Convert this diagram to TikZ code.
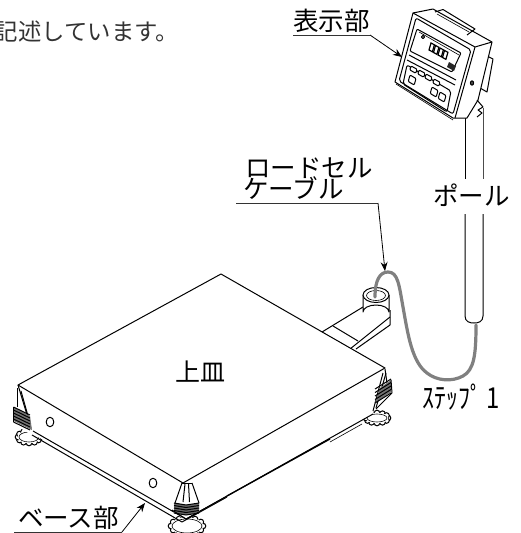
\documentclass[tikz,border=0pt]{standalone}
\usepackage{fontspec}
\setmainfont{Noto Sans CJK JP}
\usetikzlibrary{arrows.meta}
\tikzset{
  lab/.style={inner sep=0pt,font=\fontsize{25.5}{25.5}\selectfont,anchor=base west},
  gap/.style={lab,fill=white},
  ln/.style={line width=1pt,black,line join=round},
  thin line/.style={line width=.6pt,black,line join=round},
  heavy/.style={line width=1.3pt,black,line join=round},
  leader/.style={line width=.8pt,black,-{Stealth[length=9pt,width=7pt]}},
  rule/.style={line width=.9pt,black!80},
  cable/.style={line width=3.2pt,black!50,line cap=round},
  keyb/.style={line width=1pt,black,rounded corners=1pt,fill=white},
}
\newcommand{\knobshape}[4]{% cx cy rx ry
  \foreach \a in {0,30,...,330}{
    \fill[white,draw=black,line width=1pt] ({#1+#3*cos(\a)},{#2+#4*sin(\a)}) circle (2.8);
  }
  \fill[white] (#1,#2) ellipse (#3+.4 and #4+.4);
  \draw[thin line] (#1,#2) ellipse (#3-1 and #4-1);
}
\begin{document}
\begin{tikzpicture}[x=1pt,y=-1pt]
\useasboundingbox (0,0) rectangle (521,533);
\clip (0,0) rectangle (521,533);
% top text
\node[inner sep=0pt,anchor=base west,font=\fontsize{23.4}{23.4}\selectfont,text=black!80] (note) at (-5.4,40) {記述しています。};

% feet knobs (behind plate)
\knobshape{29}{437}{11}{6}
\knobshape{187}{526}{16}{8}
\knobshape{377}{418}{11}{5}

% load cell arm
\draw[ln] (322,332) -- (363,307);
\draw[ln] (350,349) -- (390,317);
\draw[ln] (356,349) -- (390,325) -- (390,310);
\draw[ln] (333,326) -- (358,341);
% load cell cylinder
\draw[ln,fill=white] (363,295) -- (363,312) arc[start angle=180,end angle=360,x radius=13,y radius=7] -- (389,295);
\draw[ln,fill=white] (376,295) ellipse (13 and 7.5);
\draw[thin line] (376,295.5) ellipse (9.5 and 5);

% plate body
\fill[white] (18,386) -- (221,274) -- (385,368) -- (373,414) -- (186,520) -- (31,433) -- cycle;
\draw[ln] (18,385) -- (221,274) -- (385,368) -- (183,483) -- cycle;
% skirts
\draw[ln] (33,431) -- (186,519) -- (373,414);
\draw[ln] (32,435) -- (182,522) -- (227,497);
\draw[heavy] (227,496) -- (330,439);
\draw[thin line] (330,442) -- (362,424);
\draw[thin line] (200,511) -- (227,496);
% holes
\draw[ln] (50,422) ellipse (3.8 and 4.8);
\draw[ln] (153,483) ellipse (3.8 and 4.8);

% left corner
\fill[white] (17,388) -- (32,428) -- (32,435) -- (13,424) -- (13,407) -- cycle;
\draw[ln] (18,385) -- (31,428);
\draw[ln] (17,388) -- (17,407);
\draw[ln] (21,391) -- (28,416);
\fill[black!55] (14,407) -- (30,416) -- (32,430) -- (14,421) -- cycle;
\foreach \d in {0,3,...,15}{\draw[ln] (13.5,{407+\d}) -- (30,{415+\d});}
\draw[ln] (13.5,407) -- (13.5,422);
% right corner
\draw[ln] (385,369) -- (387,383);
\draw[ln] (383,373) -- (373,411);
\draw[ln] (386,373) -- (376,408);
\fill[black!55] (375,403) -- (391,392) -- (391,380) -- (380,388) -- cycle;
\foreach \d in {0,3.5,...,14}{\draw[ln] (375,{403-\d}) -- (391,{393-\d});}
\draw[ln] (391,380) -- (392,393) -- (376,409);
% front corner
\fill[white] (182,483) -- (192,483) -- (199,504) -- (198,511) -- (186,518) -- (172,510) -- (175,503) -- cycle;
\draw[ln] (182,483) -- (192,483);
\draw[ln] (182,483) -- (175,503);
\draw[ln] (192,483) -- (199,503);
\draw[ln] (185,484) -- (183,502);
\draw[ln] (188.5,484) -- (189.5,502);
\fill[black!60] (174,503) -- (186,505) -- (199,503) -- (199,513) -- (186,515) -- (174,513) -- cycle;
\foreach \d in {0,2.5,...,10}{\draw[ln] (174,{503+\d}) -- (186,{505+\d}) -- (199,{503+\d});}
\draw[ln] (172,510) -- (186,519) -- (199,512);

% pole
\draw[ln] (465,118) -- (465,183);
\draw[ln,black!70] (483,108) -- (483,183);
\draw[ln] (465,214) -- (465,316) .. controls (465,322) and (470,323) .. (474,323) .. controls (478,323) and (483,322) .. (483,316) -- (483,214);

% cable
\draw[cable] (375,297) .. controls (375,280) and (380,272) .. (388,272)
  .. controls (398,272) and (399,285) .. (403,307)
  .. controls (408,335) and (412,362) .. (427,373)
  .. controls (437,381) and (452,382) .. (463,376)
  .. controls (474,370) and (476,355) .. (476,325);

% indicator
\draw[ln,fill=white] (487,56) -- (493,59) -- (487,92) -- (480,88) -- cycle;
\draw[ln,fill=white] (413,13) -- (433,9) -- (492,42) -- (478,100) -- (467,118) -- (453,118) -- (395,82) -- cycle;
\draw[ln] (413,13) -- (475,47) -- (492,42);
\draw[ln] (475,47) -- (455,118);
\draw[ln,rounded corners=2pt] (416,18) -- (471,50) -- (453,114) -- (399,81) -- cycle;
\draw[thin line] (396,84) -- (453,120);
\draw[ln] (435,12) -- (443,9.5) -- (475,29) -- (467,35);
\draw[thin line] (437,14) -- (469,32);
% display
\draw[ln,rounded corners=1pt] (417,29) -- (461,53) -- (452,72) -- (410,51) -- cycle;
\draw[thin line] (419,32) -- (459,55);
\foreach \dx/\dy in {431/43,435.5/45.5,440/48,444.5/50.5}{
  \draw[line width=1.2pt,black] (\dx,\dy) -- ++(3.4,1.8) -- ++(-2,7) -- ++(-3.4,-1.8) -- cycle;
}
\fill[black!85] (449,62) -- (456,66) -- (454,71) -- (447,67) -- cycle;
\draw[ln] (423,37) circle (1.6);
\draw[ln] (409,55) -- (456,80);
\draw[ln] (407,60) -- (455,85);
% keypad
\draw[ln,rounded corners=2pt] (407,65) -- (451,91) -- (447,112) -- (403,84) -- cycle;
\foreach \kx/\ky in {411/66,419/70,426/74,434/79}{
  \draw[keyb] (\kx,\ky) -- ++(6,3.2) -- ++(-1.2,4) -- ++(-6,-3.2) -- cycle;
}
\foreach \kx/\ky in {410/75,432/87,440/92}{
  \draw[keyb] (\kx,\ky) -- ++(6,3.5) -- ++(-1.8,6.5) -- ++(-6,-3.5) -- cycle;
}
\draw[ln,fill=black!70] (472,83) ellipse (1.6 and 2.2);
% mount
\draw[ln] (477,100) -- (483,107) -- (478,110) -- (482,113) -- (477,117);

% labels and leaders
\node[lab] (hyoji) at (293,30) {表示部};
\coordinate (hyojiR) at (370,35);
\coordinate (hyojiL) at (293,35);
\coordinate (hyojiT) at (402,57);
\draw[rule] (hyojiL) -- (hyojiR);
\draw[leader] (hyojiR) -- (hyojiT);

\node[lab] (lc1) at (245,177) {ロードセル};
\node[lab] (lc2) at (243,198) {ケーブル};
\coordinate (lcL) at (236,203);
\coordinate (lcR) at (378,203);
\coordinate (lcT) at (385,271);
\draw[rule] (lcL) -- (lcR);
\draw[leader] (lcR) -- (lcT);

\node[gap,inner ysep=4pt] (pole) at (433,205) {ポール};
\node[lab,font=\fontsize{25}{25}\selectfont] (ue) at (175,381) {上皿};

\node[lab] (base) at (18,527) {ベース部};
\coordinate (baseL) at (14,532);
\coordinate (baseR) at (122,532);
\coordinate (baseT) at (145,503);
\draw[rule] (baseL) -- (baseR);
\draw[leader] (baseR) -- (baseT);

\node[lab,font=\fontsize{21.4}{21.4}\selectfont] (step1) at (422,408) {\scalebox{1.12}[1.35]{ｽﾃｯﾌﾟ}};
\node[lab,font=\fontsize{21.4}{21.4}\selectfont] (step2) at (486,408) {\scalebox{1.12}[1.35]{1}};
\end{tikzpicture}
\end{document}
